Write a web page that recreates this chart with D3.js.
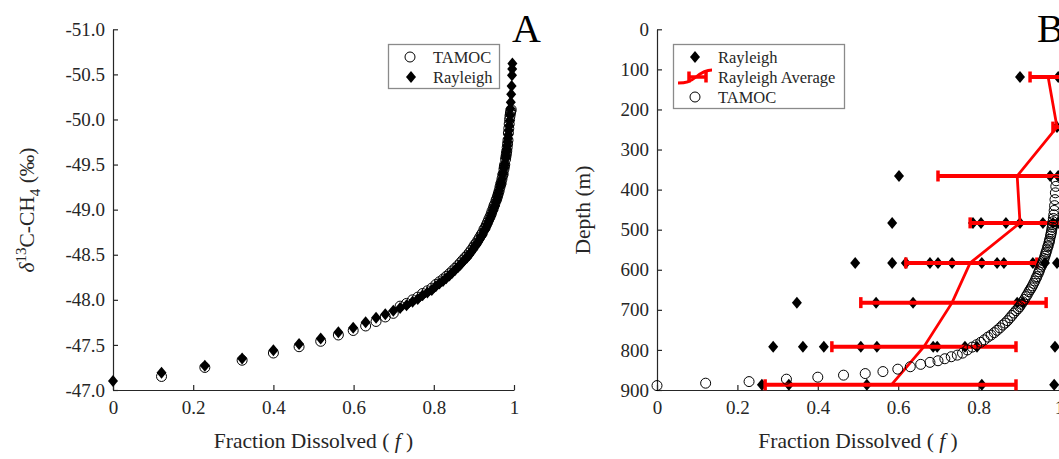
<!DOCTYPE html>
<html>
<head>
<meta charset="utf-8">
<script src="https://cdn.jsdelivr.net/npm/d3@7/dist/d3.min.js"></script>
<style>
body { margin: 0; background: #fff; }
svg { display: block; font-family: "Liberation Serif", "Times New Roman", serif; }
.axis path, .axis line { stroke: #262626; stroke-width: 1.2; }
.axis text { fill: #262626; font-size: 19px; font-family: "Liberation Serif", serif; }
</style>
</head>
<body>
<div id="chart"></div>
<script>
// ---- panel A : delta13C vs fraction dissolved ----
// TAMOC model output (fraction dissolved, delta13C, depth)
const tamocF = [0, 0.121, 0.229, 0.322, 0.400, 0.464, 0.518, 0.562, 0.599, 0.630, 0.656, 0.679, 0.699,
  0.716, 0.732, 0.747, 0.760, 0.772, 0.784, 0.795, 0.805, 0.814, 0.823,
  0.831, 0.839, 0.846, 0.853, 0.860, 0.866, 0.872, 0.878, 0.883, 0.888,
  0.893, 0.898, 0.902, 0.906, 0.910, 0.914, 0.918, 0.921, 0.925, 0.928,
  0.931, 0.934, 0.937, 0.940, 0.943, 0.945, 0.948, 0.950, 0.952, 0.955,
  0.957, 0.959, 0.961, 0.963, 0.965, 0.967, 0.968, 0.970, 0.972, 0.973,
  0.975, 0.976, 0.977, 0.979, 0.980, 0.981, 0.982, 0.983, 0.984, 0.985,
  0.986, 0.987, 0.988, 0.989, 0.990, 0.991, 0.992, 0.993];
// first TAMOC point is hidden under the Rayleigh marker in panel A
const tamocDelta = [null, -47.15, -47.25, -47.33, -47.41, -47.48, -47.54, -47.61, -47.66, -47.71, -47.76, -47.81, -47.85,
  -47.93, -47.96, -48.00, -48.03, -48.07, -48.10, -48.13, -48.17, -48.20, -48.23,
  -48.26, -48.29, -48.32, -48.35, -48.38, -48.41, -48.44, -48.47, -48.49, -48.52,
  -48.55, -48.58, -48.61, -48.63, -48.66, -48.69, -48.72, -48.74, -48.78, -48.80,
  -48.83, -48.86, -48.89, -48.92, -48.95, -48.98, -49.01, -49.04, -49.06, -49.10,
  -49.12, -49.15, -49.18, -49.21, -49.25, -49.28, -49.30, -49.34, -49.38, -49.40,
  -49.45, -49.48, -49.50, -49.56, -49.59, -49.62, -49.65, -49.69, -49.73, -49.77,
  -49.85, -49.90, -49.95, -50.00, -50.04, -50.07, -50.09, -50.11];
const tamocDepth = [889, 883, 879, 873, 868, 863, 859, 854, 848, 842, 836, 831, 827,
  822, 817, 813, 808, 800, 793, 787, 781, 775, 768,
  763, 757, 751, 745, 738, 733, 727, 720, 714, 708,
  702, 697, 692, 686, 680, 674, 667, 662, 655, 650,
  645, 640, 634, 628, 621, 617, 610, 605, 600, 593,
  588, 583, 577, 572, 566, 560, 556, 550, 543, 540,
  533, 529, 524, 516, 511, 506, 500, 494, 487, 480,
  472, 463, 452, 440, 425, 408, 392, 378];

// Rayleigh model (fraction dissolved, delta13C)
const rayF = [0, 0.121, 0.229, 0.322, 0.400, 0.464, 0.518, 0.562, 0.599, 0.630, 0.656, 0.679, 0.699,
  0.716, 0.732, 0.747, 0.760, 0.772, 0.784, 0.795, 0.805, 0.814, 0.823,
  0.831, 0.839, 0.846, 0.853, 0.860, 0.866, 0.872, 0.878, 0.883, 0.888,
  0.893, 0.898, 0.902, 0.906, 0.910, 0.914, 0.918, 0.921, 0.925, 0.928,
  0.931, 0.934, 0.937, 0.940, 0.943, 0.945, 0.948, 0.950, 0.952, 0.955,
  0.957, 0.959, 0.961, 0.963, 0.965, 0.967, 0.968, 0.970, 0.972, 0.973,
  0.975, 0.976, 0.977, 0.979, 0.980, 0.981, 0.982, 0.983, 0.984, 0.985,
  0.986, 0.987, 0.988, 0.989, 0.990, 0.991, 0.992, 0.993, 0.994, 0.995, 0.9955, 0.996];
const rayDelta = [-47.10, -47.19, -47.27, -47.35, -47.44, -47.51, -47.57, -47.64, -47.69, -47.75, -47.80, -47.84, -47.88,
  -47.91, -47.94, -47.98, -48.01, -48.05, -48.08, -48.11, -48.15, -48.18, -48.21,
  -48.24, -48.27, -48.30, -48.33, -48.36, -48.39, -48.42, -48.45, -48.47, -48.50,
  -48.53, -48.56, -48.59, -48.61, -48.64, -48.67, -48.70, -48.72, -48.76, -48.78,
  -48.81, -48.84, -48.87, -48.90, -48.93, -48.96, -48.99, -49.02, -49.04, -49.08,
  -49.11, -49.14, -49.18, -49.21, -49.25, -49.28, -49.30, -49.34, -49.39, -49.41,
  -49.46, -49.49, -49.51, -49.57, -49.60, -49.64, -49.67, -49.71, -49.75, -49.79,
  -49.83, -49.88, -49.93, -49.99, -50.05, -50.12, -50.19, -50.28, -50.37, -50.49, -50.56, -50.62];

// ---- panel B : Rayleigh per depth level ----
const levelDepth = [119, 244, 366, 483, 583, 682, 792, 887];
const levelF = [
  [0.903, 0.998],
  [0.995],
  [0.602, 0.978, 0.998],
  [0.585, 0.786, 0.806, 0.868, 0.903, 0.960, 0.985, 0.998],
  [0.493, 0.585, 0.619, 0.679, 0.699, 0.734, 0.808, 0.846, 0.863, 0.935, 0.965, 0.995],
  [0.348, 0.545, 0.637, 0.896, 0.910],
  [0.289, 0.363, 0.415, 0.507, 0.547, 0.687, 0.697, 0.766, 0.796, 0.990],
  [0.261, 0.328, 0.522, 0.808, 0.988]
];
const avgF = [0.973, 0.995, 0.896, 0.903, 0.779, 0.734, 0.664, 0.583];
const errLo = [0.928, 0.985, 0.699, 0.779, 0.619, 0.507, 0.435, 0.269];
const errHi = [1.018, 1.005, 1.093, 1.027, 0.945, 0.968, 0.893, 0.893];

// ticks
const xTicks = [0, 0.2, 0.4, 0.6, 0.8, 1];
const deltaTicks = [-51.0, -50.5, -50.0, -49.5, -49.0, -48.5, -48.0, -47.5, -47.0];
const depthTicks = [0, 100, 200, 300, 400, 500, 600, 700, 800, 900];

// frame
const WIDTH = 1059, HEIGHT = 459;
const PA = {left: 113, right: 514, top: 29.3, bottom: 390};
const PB = {left: 657, right: 1059, top: 29.3, bottom: 390};

const SVG = d3.select("#chart").append("svg")
  .attr("width", WIDTH).attr("height", HEIGHT);

// diamond marker path centred on 0,0
function diamond(w, h) {
  return "M0," + (-h) + "L" + w + ",0L0," + h + "L" + (-w) + ",0Z";
}
const DIAMOND = diamond(5, 6);

// scales
const XA = d3.scaleLinear().domain([0, 1]).range([PA.left, PA.right]);
const YA = d3.scaleLinear().domain([-51, -47]).range([PA.top, PA.bottom]);
const XB = d3.scaleLinear().domain([0, 1]).range([PB.left, PB.right]);
const YB = d3.scaleLinear().domain([0, 900]).range([PB.top, PB.bottom]);

// axes (ticks point inward), plain hyphen for negatives like the original
function drawAxes(X, Y, P, yTicks, yFmt) {
  SVG.append("g").attr("class", "axis")
    .attr("transform", "translate(0," + P.bottom + ")")
    .call(d3.axisBottom(X).tickValues(xTicks).tickFormat((d) => String(d))
      .tickSizeInner(-5).tickSizeOuter(0).tickPadding(10.5));
  SVG.append("g").attr("class", "axis")
    .attr("transform", "translate(" + P.left + ",0)")
    .call(d3.axisLeft(Y).tickValues(yTicks).tickFormat(yFmt)
      .tickSizeInner(-5).tickSizeOuter(0).tickPadding(8));
}
drawAxes(XA, YA, PA, deltaTicks, (d) => d.toFixed(1));
drawAxes(XB, YB, PB, depthTicks, (d) => String(d));

// ---- panel A marks ----
SVG.append("g").selectAll("circle")
  .data(tamocF.map((f, i) => ({f: f, v: tamocDelta[i]})).filter((d) => d.v !== null))
  .enter()
  .append("circle")
    .attr("cx", (d) => XA(d.f))
    .attr("cy", (d) => YA(d.v))
    .attr("r", 5)
    .attr("fill", "none")
    .attr("stroke", "#000")
    .attr("stroke-width", 1);

SVG.append("g").selectAll("path")
  .data(rayF)
  .enter()
  .append("path")
    .attr("d", DIAMOND)
    .attr("transform", (d, i) => "translate(" + XA(d) + "," + YA(rayDelta[i]) + ")")
    .attr("fill", "#000");

// ---- panel B marks ----
const levelPts = [];
levelF.forEach((row, i) => row.forEach((f) => levelPts.push({f: f, depth: levelDepth[i]})));

SVG.append("g").selectAll("path")
  .data(levelPts)
  .enter()
  .append("path")
    .attr("d", DIAMOND)
    .attr("transform", (d) => "translate(" + XB(d.f) + "," + YB(d.depth) + ")")
    .attr("fill", "#000");

// error bars
const ERR = SVG.append("g").attr("stroke", "#ff0000").attr("fill", "none");
levelDepth.forEach((dep, i) => {
  const y = YB(dep);
  ERR.append("line")
    .attr("x1", XB(errLo[i])).attr("x2", XB(errHi[i]))
    .attr("y1", y).attr("y2", y)
    .attr("stroke-width", 4);
  [errLo[i], errHi[i]].forEach((v) => {
    ERR.append("line")
      .attr("x1", XB(v)).attr("x2", XB(v))
      .attr("y1", y - 5.5).attr("y2", y + 5.5)
      .attr("stroke-width", 3.5);
  });
});

// average line
SVG.append("path")
  .datum(levelDepth)
  .attr("d", d3.line().x((d, i) => XB(avgF[i])).y((d) => YB(d)))
  .attr("fill", "none")
  .attr("stroke", "#ff0000")
  .attr("stroke-width", 2.8);

SVG.append("g").selectAll("circle")
  .data(tamocF)
  .enter()
  .append("circle")
    .attr("cx", (d) => XB(d))
    .attr("cy", (d, i) => YB(tamocDepth[i]))
    .attr("r", 5)
    .attr("fill", "none")
    .attr("stroke", "#000")
    .attr("stroke-width", 1);

// ---- legends ----
function legendBox(x, y, w, h) {
  SVG.append("rect")
    .attr("x", x + 0.5).attr("y", y + 0.5)
    .attr("width", w).attr("height", h)
    .attr("fill", "#fff")
    .attr("stroke", "#8a8a8a")
    .attr("stroke-width", 1.3);
}
function legendText(x, y, txt) {
  SVG.append("text")
    .attr("x", x).attr("y", y)
    .attr("font-size", "16.5px")
    .attr("fill", "#262626")
    .text(txt);
}

// legend A
legendBox(388, 44, 111, 44);
SVG.append("circle").attr("cx", 410).attr("cy", 57).attr("r", 5)
  .attr("fill", "none").attr("stroke", "#000");
legendText(433, 63, "TAMOC");
SVG.append("path").attr("d", DIAMOND).attr("transform", "translate(411,77)").attr("fill", "#000");
legendText(433, 83, "Rayleigh");

// legend B
legendBox(673, 44, 171, 64);
SVG.append("path").attr("d", DIAMOND).attr("transform", "translate(695,57)").attr("fill", "#000");
legendText(718, 63, "Rayleigh");
SVG.append("path")
  .attr("d", "M678,83 C686,83 690,82 696,77 C702,72 706,70 712,70")
  .attr("fill", "none").attr("stroke", "#ff0000").attr("stroke-width", 2.8);
SVG.append("path")
  .attr("d", "M689,77 L706,77 M689,71.5 L689,82.5 M706,71.5 L706,82.5")
  .attr("fill", "none").attr("stroke", "#ff0000").attr("stroke-width", 3.5);
legendText(718, 83, "Rayleigh Average");
SVG.append("circle").attr("cx", 695).attr("cy", 97).attr("r", 5)
  .attr("fill", "none").attr("stroke", "#000");
legendText(718, 103, "TAMOC");

// ---- panel labels and axis titles ----
SVG.append("text").attr("x", 512).attr("y", 42).attr("font-size", "40px").attr("fill", "#000").text("A");
SVG.append("text").attr("x", 1037).attr("y", 42).attr("font-size", "40px").attr("fill", "#000").text("B");

function xTitle(cx) {
  const t = SVG.append("text")
    .attr("x", cx).attr("y", 448)
    .attr("text-anchor", "middle")
    .attr("font-size", "21.5px")
    .attr("fill", "#262626");
  t.append("tspan").text("Fraction Dissolved ( ");
  t.append("tspan").attr("font-style", "italic").text("f");
  t.append("tspan").text(" )");
}
xTitle((PA.left + PA.right) / 2);
xTitle((PB.left + PB.right) / 2);

const YT = SVG.append("text")
  .attr("transform", "translate(34,210) rotate(-90)")
  .attr("text-anchor", "middle")
  .attr("font-size", "21.5px")
  .attr("fill", "#262626");
YT.append("tspan").attr("font-style", "italic").text("δ");
YT.append("tspan").attr("font-size", "15px").attr("dy", "-8").text("13");
YT.append("tspan").attr("dy", "8").text("C-CH");
YT.append("tspan").attr("font-size", "15px").attr("dy", "6").text("4");
YT.append("tspan").attr("dy", "-6").text(" (‰)");

SVG.append("text")
  .attr("transform", "translate(590,210) rotate(-90)")
  .attr("text-anchor", "middle")
  .attr("font-size", "21.5px")
  .attr("fill", "#262626")
  .text("Depth (m)");
</script>
</body>
</html>
